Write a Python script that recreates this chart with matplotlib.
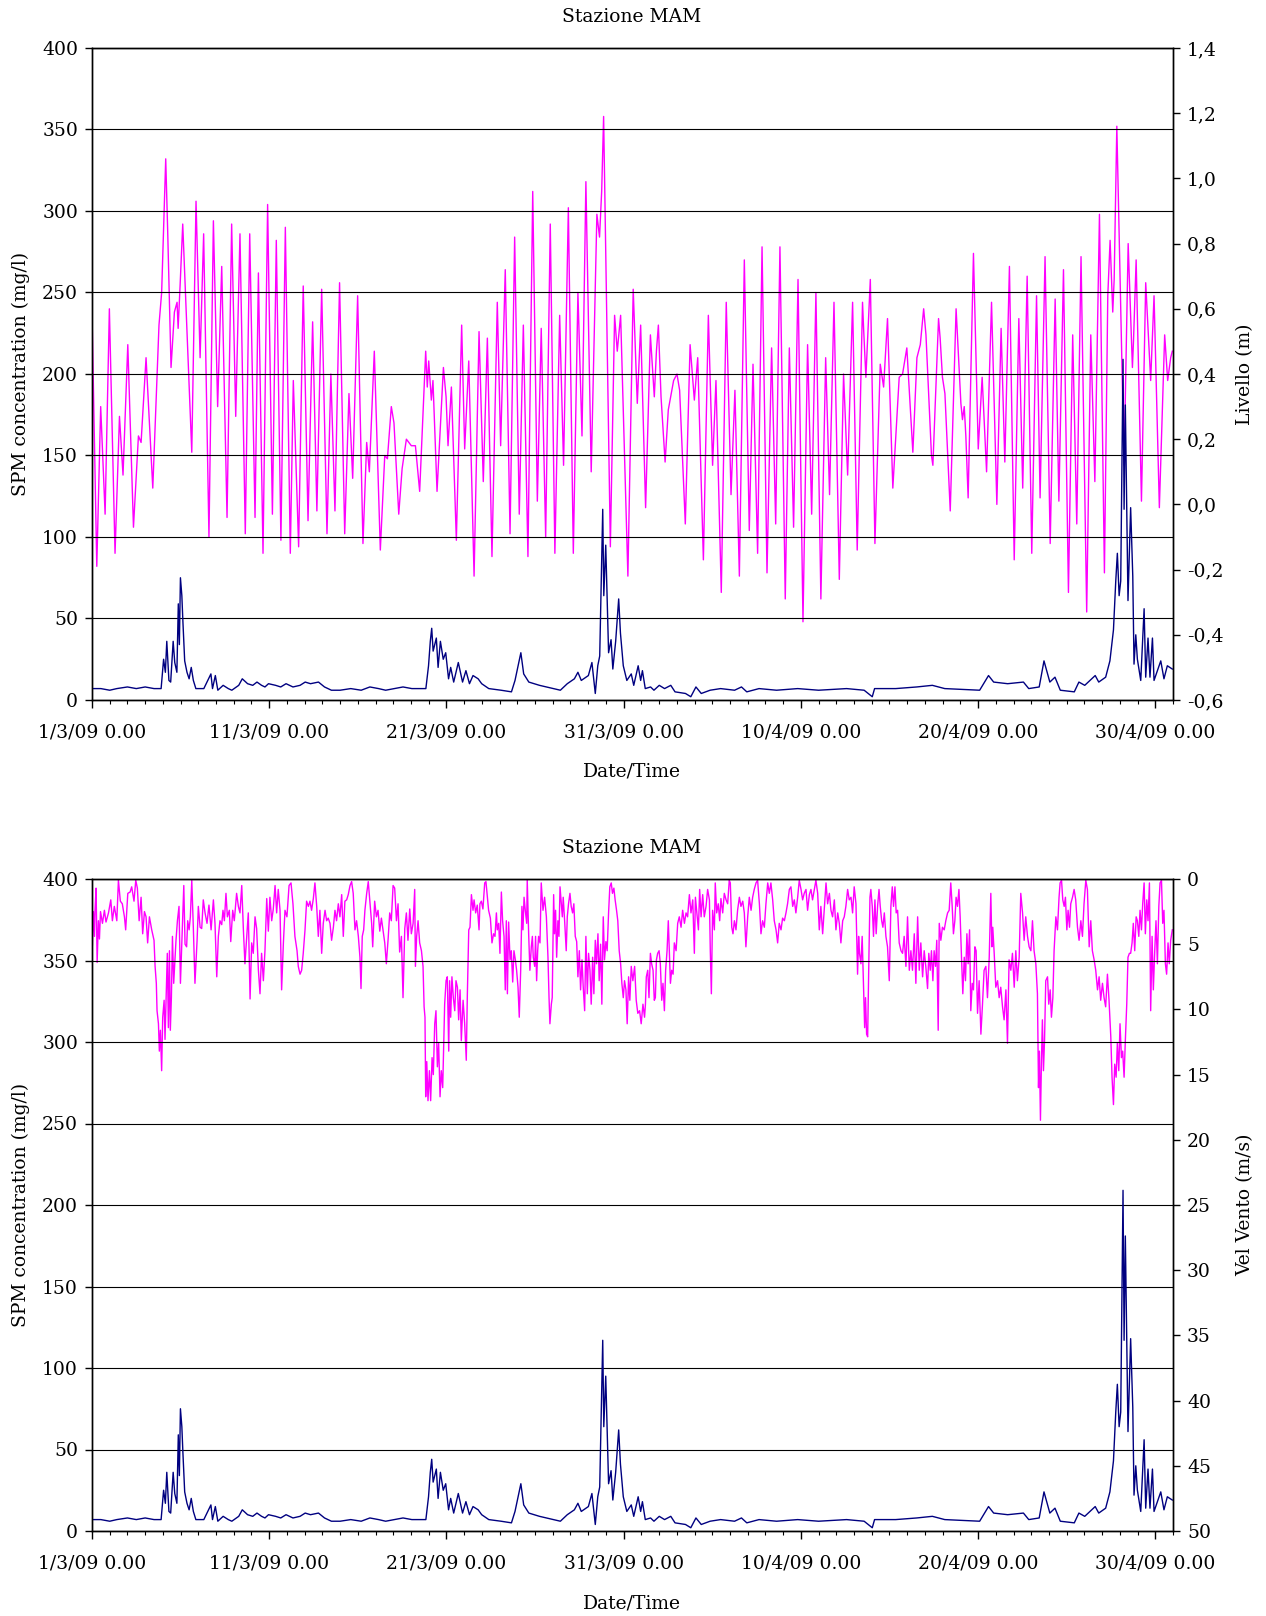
import matplotlib
matplotlib.use('Agg')
import matplotlib.pyplot as plt
from matplotlib.ticker import MultipleLocator, FixedLocator, FuncFormatter

plt.rcParams['font.family'] = 'DejaVu Serif'
plt.rcParams['font.size'] = 13.5

# x values are days since 1/3/09 0.00
date_ticks = [0, 10, 20, 30, 40, 50, 60]
date_labels = ['1/3/09 0.00', '11/3/09 0.00', '21/3/09 0.00', '31/3/09 0.00',
               '10/4/09 0.00', '20/4/09 0.00', '30/4/09 0.00']

# SPM concentration (mg/l)
spm = [(0.0, 7), (0.5, 7), (1.0, 6), (1.4, 7), (2.0, 8), (2.5, 7), (3.0, 8), (3.5, 7), (3.9, 7),
       (4.04, 25), (4.14, 17), (4.22, 36), (4.34, 12), (4.44, 11), (4.58, 36), (4.67, 23), (4.79, 17),
       (4.87, 59), (4.93, 34), (4.99, 75), (5.07, 64), (5.13, 48), (5.23, 24), (5.36, 17), (5.48, 13),
       (5.60, 20), (5.72, 12), (5.86, 7), (6.31, 7), (6.71, 16), (6.80, 7), (6.96, 15), (7.10, 6),
       (7.40, 9), (7.69, 7), (7.89, 6), (8.28, 9), (8.48, 13), (8.78, 10), (9.07, 9), (9.31, 11),
       (9.57, 9), (9.76, 8), (9.96, 10), (10.36, 9), (10.65, 8), (10.95, 10), (11.34, 8), (11.74, 9),
       (12.03, 11), (12.33, 10), (12.78, 11), (13.12, 8), (13.51, 6), (14.00, 6), (14.60, 7),
       (15.19, 6), (15.68, 8), (16.17, 7), (16.57, 6), (17.06, 7), (17.55, 8), (18.05, 7), (18.84, 7),
       (18.99, 21), (19.09, 36), (19.17, 44), (19.25, 30), (19.43, 38), (19.53, 20), (19.66, 36),
       (19.82, 25), (19.96, 29), (20.12, 13), (20.24, 20), (20.41, 11), (20.67, 23), (20.91, 11),
       (21.10, 18), (21.30, 10), (21.50, 15), (21.79, 13), (21.99, 10), (22.39, 7), (23.08, 6),
       (23.67, 5), (23.87, 12), (24.20, 29), (24.36, 16), (24.65, 11), (25.25, 9), (26.04, 7),
       (26.43, 6), (26.82, 10), (27.22, 13), (27.42, 17), (27.61, 12), (28.01, 15), (28.21, 23),
       (28.40, 4), (28.54, 21), (28.65, 27), (28.82, 117), (28.88, 64), (28.99, 95), (29.15, 29),
       (29.29, 37), (29.39, 19), (29.55, 36), (29.72, 62), (29.82, 41), (29.98, 21), (30.18, 12),
       (30.43, 16), (30.57, 9), (30.82, 21), (30.96, 12), (31.06, 18), (31.22, 7), (31.52, 8),
       (31.71, 6), (32.01, 9), (32.31, 7), (32.66, 9), (32.90, 5), (33.49, 4), (33.79, 2), (34.08, 8),
       (34.38, 4), (34.88, 6), (35.47, 7), (36.26, 6), (36.65, 8), (36.95, 5), (37.64, 7), (38.63, 6),
       (39.82, 7), (41.00, 6), (42.58, 7), (43.57, 6), (44.03, 2), (44.16, 7), (45.35, 7), (46.54, 8),
       (47.42, 9), (48.12, 7), (50.09, 6), (50.59, 15), (50.88, 11), (51.67, 10), (52.56, 11),
       (52.86, 7), (53.45, 8), (53.72, 24), (54.05, 11), (54.34, 14), (54.64, 6), (55.43, 5),
       (55.69, 11), (56.02, 9), (56.61, 15), (56.81, 11), (57.20, 14), (57.44, 24), (57.64, 43),
       (57.77, 73), (57.86, 90), (57.96, 64), (58.05, 73), (58.18, 209), (58.24, 117), (58.31, 181),
       (58.46, 61), (58.61, 118), (58.73, 76), (58.80, 22), (58.90, 40), (58.99, 25), (59.18, 12),
       (59.37, 56), (59.46, 14), (59.59, 38), (59.70, 14), (59.84, 38), (59.93, 12), (60.31, 24),
       (60.49, 13), (60.68, 21), (60.96, 19)]

# Livello (m), tide highs and lows
livello = [(0.0, 0.59), (0.27, -0.19), (0.49, 0.30), (0.74, -0.03), (0.98, 0.60), (1.30, -0.15),
           (1.55, 0.27), (1.75, 0.09), (2.02, 0.49), (2.34, -0.07), (2.62, 0.21), (2.77, 0.19),
           (3.05, 0.45), (3.43, 0.05), (3.78, 0.55), (3.93, 0.65), (4.16, 1.06), (4.27, 0.84),
           (4.46, 0.42), (4.65, 0.59), (4.80, 0.62), (4.86, 0.54), (4.97, 0.67), (5.12, 0.86),
           (5.63, 0.16), (5.87, 0.93), (6.10, 0.45), (6.30, 0.83), (6.60, -0.10), (6.85, 0.87),
           (7.09, 0.30), (7.32, 0.73), (7.62, -0.04), (7.88, 0.86), (8.11, 0.27), (8.35, 0.83),
           (8.65, -0.09), (8.90, 0.83), (9.20, -0.04), (9.39, 0.71), (9.65, -0.15), (9.91, 0.92),
           (10.18, -0.03), (10.40, 0.81), (10.66, -0.11), (10.91, 0.85), (11.19, -0.15), (11.36, 0.38),
           (11.66, -0.13), (11.92, 0.67), (12.19, -0.05), (12.45, 0.56), (12.69, -0.02), (12.96, 0.66),
           (13.26, -0.09), (13.48, 0.40), (13.71, -0.02), (13.97, 0.68), (14.26, -0.09), (14.50, 0.34),
           (14.71, 0.08), (14.99, 0.64), (15.29, -0.12), (15.50, 0.19), (15.65, 0.10), (15.93, 0.47),
           (16.27, -0.14), (16.52, 0.15), (16.67, 0.14), (16.89, 0.30), (17.04, 0.25), (17.31, -0.03),
           (17.50, 0.11), (17.74, 0.20), (18.02, 0.18), (18.25, 0.18), (18.49, 0.04), (18.83, 0.47),
           (18.92, 0.36), (19.00, 0.44), (19.15, 0.32), (19.24, 0.38), (19.47, 0.04), (19.83, 0.42),
           (19.98, 0.33), (20.09, 0.18), (20.28, 0.36), (20.56, -0.11), (20.86, 0.55), (21.03, 0.17),
           (21.26, 0.44), (21.56, -0.22), (21.84, 0.53), (22.08, 0.07), (22.31, 0.51), (22.57, -0.16),
           (22.87, 0.62), (23.06, 0.18), (23.32, 0.72), (23.59, -0.09), (23.85, 0.82), (24.11, -0.03),
           (24.34, 0.55), (24.60, -0.16), (24.87, 0.96), (25.13, 0.01), (25.35, 0.54), (25.60, -0.10),
           (25.86, 0.86), (26.12, -0.15), (26.39, 0.58), (26.61, 0.12), (26.88, 0.91), (27.16, -0.15),
           (27.42, 0.65), (27.65, 0.21), (27.87, 0.99), (28.17, 0.10), (28.49, 0.89), (28.64, 0.82),
           (28.76, 0.96), (28.87, 1.19), (29.25, -0.13), (29.49, 0.58), (29.64, 0.47), (29.83, 0.58),
           (30.24, -0.22), (30.54, 0.66), (30.77, 0.31), (30.96, 0.55), (31.24, -0.01), (31.51, 0.52),
           (31.73, 0.33), (31.85, 0.47), (31.96, 0.55), (32.11, 0.33), (32.34, 0.13), (32.52, 0.29),
           (32.82, 0.38), (33.01, 0.40), (33.16, 0.35), (33.48, -0.06), (33.75, 0.49), (33.99, 0.32),
           (34.18, 0.45), (34.50, -0.17), (34.78, 0.58), (35.02, 0.12), (35.21, 0.38), (35.51, -0.27),
           (35.79, 0.62), (36.06, 0.03), (36.28, 0.35), (36.53, -0.22), (36.81, 0.75), (37.09, -0.08),
           (37.30, 0.43), (37.56, -0.15), (37.81, 0.79), (38.09, -0.21), (38.35, 0.48), (38.58, -0.06),
           (38.82, 0.79), (39.12, -0.29), (39.35, 0.48), (39.59, -0.07), (39.84, 0.69), (40.12, -0.36),
           (40.38, 0.49), (40.61, -0.03), (40.85, 0.65), (41.13, -0.29), (41.40, 0.45), (41.62, 0.03),
           (41.87, 0.62), (42.17, -0.23), (42.41, 0.40), (42.64, 0.09), (42.92, 0.62), (43.18, -0.14),
           (43.48, 0.62), (43.54, 0.54), (43.67, 0.39), (43.92, 0.69), (44.18, -0.12), (44.48, 0.43),
           (44.67, 0.36), (44.89, 0.57), (45.19, 0.05), (45.55, 0.39), (45.74, 0.40), (45.98, 0.48),
           (46.32, 0.16), (46.55, 0.45), (46.74, 0.49), (46.93, 0.60), (47.06, 0.52), (47.37, 0.15),
           (47.45, 0.12), (47.77, 0.57), (47.86, 0.51), (47.99, 0.39), (48.13, 0.34), (48.43, -0.02),
           (48.76, 0.60), (49.03, 0.31), (49.12, 0.26), (49.22, 0.30), (49.31, 0.21), (49.44, 0.02),
           (49.74, 0.77), (50.01, 0.17), (50.23, 0.39), (50.48, 0.10), (50.76, 0.62), (51.06, 0.00),
           (51.30, 0.54), (51.51, 0.13), (51.77, 0.73), (52.04, -0.17), (52.30, 0.57), (52.52, 0.05),
           (52.77, 0.70), (53.03, -0.15), (53.30, 0.64), (53.50, 0.02), (53.78, 0.76), (54.07, -0.12),
           (54.35, 0.63), (54.56, 0.01), (54.82, 0.72), (55.10, -0.27), (55.34, 0.52), (55.57, -0.06),
           (55.81, 0.76), (56.13, -0.33), (56.36, 0.52), (56.59, 0.07), (56.85, 0.89), (57.13, -0.21),
           (57.32, 0.64), (57.45, 0.81), (57.60, 0.59), (57.68, 0.69), (57.83, 1.16), (58.24, 0.12),
           (58.47, 0.80), (58.71, 0.42), (58.77, 0.50), (58.92, 0.75), (59.22, 0.01), (59.46, 0.68),
           (59.74, 0.38), (59.93, 0.64), (60.23, -0.01), (60.53, 0.52), (60.70, 0.38), (60.87, 0.45),
           (60.96, 0.47)]

# Vel Vento (m/s)
vento = [(0.00, 1.4), (0.02, 5.1), (0.08, 2.5), (0.14, 4.4), (0.17, 2.4), (0.23, 0.7), (0.29, 6.4),
         (0.36, 3.2), (0.42, 4.6), (0.48, 2.5), (0.59, 3.4), (0.70, 2.4), (0.79, 3.3), (0.93, 2.6),
         (1.06, 1.6), (1.15, 3.2), (1.26, 2.1), (1.40, 3.2), (1.49, 0.1), (1.60, 1.7), (1.71, 1.9),
         (1.83, 2.9), (1.90, 3.9), (2.02, 1.1), (2.15, 1.0), (2.24, 0.6), (2.37, 1.7), (2.47, 0.1),
         (2.56, 0.7), (2.66, 3.2), (2.77, 1.4), (2.86, 4.2), (2.96, 2.5), (3.05, 2.9), (3.14, 4.9),
         (3.24, 2.9), (3.37, 3.9), (3.50, 4.7), (3.56, 6.7), (3.63, 8.0), (3.67, 10.1), (3.75, 11.1),
         (3.80, 13.2), (3.86, 11.6), (3.93, 14.7), (3.99, 10.6), (4.07, 9.3), (4.12, 12.3),
         (4.18, 9.2), (4.25, 5.7), (4.31, 11.4), (4.37, 5.5), (4.42, 11.6), (4.48, 9.1), (4.54, 4.4),
         (4.61, 8.0), (4.69, 6.0), (4.74, 4.7), (4.82, 3.2), (4.91, 2.1), (4.99, 8.0), (5.08, 4.4),
         (5.18, 0.5), (5.25, 5.0), (5.34, 5.2), (5.40, 3.2), (5.48, 3.9), (5.55, 2.9), (5.63, 0.1),
         (5.72, 3.8), (5.81, 8.0), (5.93, 4.7), (6.00, 2.1), (6.10, 3.7), (6.19, 3.8), (6.28, 1.6),
         (6.38, 2.6), (6.49, 3.4), (6.60, 2.0), (6.72, 3.9), (6.85, 1.6), (6.94, 3.4), (7.04, 7.5),
         (7.13, 4.4), (7.22, 3.2), (7.32, 3.5), (7.39, 2.4), (7.47, 3.2), (7.56, 1.1), (7.64, 2.9),
         (7.75, 2.4), (7.83, 4.8), (7.94, 2.4), (8.03, 3.2), (8.16, 1.1), (8.26, 2.1), (8.35, 2.6),
         (8.45, 0.5), (8.54, 3.8), (8.63, 6.5), (8.73, 4.4), (8.82, 2.6), (8.92, 9.2), (9.01, 4.9),
         (9.10, 5.7), (9.20, 2.9), (9.29, 3.8), (9.39, 7.0), (9.48, 8.8), (9.57, 5.7), (9.67, 7.8),
         (9.76, 5.5), (9.86, 1.5), (9.95, 4.0), (10.04, 1.4), (10.14, 3.2), (10.23, 2.3),
         (10.33, 0.5), (10.42, 2.6), (10.51, 0.8), (10.61, 2.4), (10.70, 8.5), (10.80, 4.9),
         (10.89, 2.4), (11.00, 2.9), (11.12, 0.5), (11.23, 0.3), (11.34, 1.9), (11.45, 4.4),
         (11.57, 5.5), (11.64, 6.7), (11.74, 7.3), (11.83, 7.0), (11.92, 5.7), (12.02, 3.9),
         (12.11, 1.7), (12.21, 2.1), (12.30, 1.7), (12.39, 2.4), (12.49, 1.5), (12.58, 0.3),
         (12.68, 2.1), (12.77, 4.4), (12.86, 2.4), (12.96, 5.7), (13.05, 3.4), (13.15, 2.4),
         (13.24, 3.2), (13.33, 3.0), (13.43, 3.4), (13.52, 4.7), (13.62, 3.7), (13.71, 2.4),
         (13.80, 3.2), (13.90, 1.9), (13.99, 2.9), (14.09, 1.2), (14.18, 4.4), (14.27, 1.7),
         (14.37, 1.6), (14.46, 1.2), (14.56, 0.5), (14.65, 0.2), (14.74, 1.1), (14.84, 3.9),
         (14.93, 3.2), (15.03, 4.4), (15.12, 6.0), (15.18, 8.4), (15.25, 4.4), (15.33, 3.9),
         (15.40, 2.4), (15.50, 1.1), (15.59, 0.2), (15.69, 1.9), (15.78, 3.4), (15.84, 5.2),
         (15.95, 1.7), (16.05, 2.9), (16.14, 2.4), (16.24, 4.0), (16.33, 3.0), (16.42, 3.9),
         (16.52, 4.9), (16.61, 6.5), (16.71, 4.6), (16.80, 2.6), (16.89, 3.2), (16.99, 0.5),
         (17.08, 0.7), (17.18, 3.2), (17.27, 1.9), (17.36, 5.6), (17.46, 4.4), (17.55, 9.1),
         (17.65, 3.8), (17.74, 2.6), (17.83, 4.7), (17.93, 2.3), (18.02, 4.2), (18.12, 3.4),
         (18.21, 0.8), (18.25, 6.7), (18.32, 4.4), (18.40, 3.2), (18.49, 4.9), (18.59, 5.5),
         (18.68, 6.7), (18.74, 9.8), (18.79, 10.6), (18.83, 16.7), (18.89, 14.0), (18.96, 17.0),
         (19.04, 14.7), (19.11, 17.0), (19.19, 13.7), (19.26, 15.0), (19.34, 11.1), (19.41, 10.1),
         (19.49, 14.4), (19.56, 12.6), (19.64, 16.7), (19.71, 14.7), (19.79, 16.0), (19.86, 12.1),
         (19.90, 9.6), (19.98, 7.8), (20.05, 7.5), (20.13, 13.2), (20.18, 7.8), (20.24, 10.6),
         (20.31, 7.5), (20.39, 9.1), (20.47, 10.1), (20.54, 7.8), (20.62, 8.3), (20.69, 10.8),
         (20.77, 8.5), (20.84, 12.4), (20.94, 9.3), (21.03, 11.1), (21.12, 13.9), (21.18, 8.9),
         (21.26, 3.9), (21.33, 3.7), (21.41, 1.2), (21.50, 2.4), (21.56, 1.6), (21.65, 2.6),
         (21.74, 2.0), (21.84, 3.9), (21.89, 1.9), (21.97, 1.7), (22.06, 2.3), (22.16, 0.3),
         (22.23, 0.2), (22.31, 1.4), (22.38, 2.4), (22.48, 3.0), (22.57, 4.9), (22.66, 4.2),
         (22.74, 4.4), (22.82, 2.6), (22.87, 3.9), (22.95, 3.4), (23.02, 5.7), (23.10, 1.0),
         (23.17, 3.2), (23.25, 4.4), (23.32, 8.5), (23.38, 3.2), (23.44, 8.8), (23.51, 3.3),
         (23.59, 6.2), (23.66, 5.5), (23.74, 7.9), (23.81, 5.5), (23.89, 6.2), (23.96, 7.0),
         (24.04, 8.3), (24.11, 10.6), (24.19, 7.0), (24.26, 2.1), (24.32, 3.9), (24.38, 1.4),
         (24.45, 2.4), (24.53, 3.4), (24.56, 0.1), (24.64, 4.2), (24.71, 7.0), (24.79, 5.2),
         (24.85, 4.4), (24.90, 6.0), (24.98, 6.7), (25.03, 4.4), (25.09, 7.8), (25.15, 5.5),
         (25.20, 4.4), (25.28, 4.9), (25.35, 0.3), (25.45, 2.4), (25.54, 1.4), (25.64, 2.9),
         (25.73, 6.0), (25.79, 9.1), (25.84, 11.1), (25.92, 9.6), (25.97, 9.1), (26.05, 1.2),
         (26.10, 4.2), (26.16, 2.4), (26.22, 6.0), (26.29, 3.2), (26.35, 4.4), (26.41, 0.6),
         (26.48, 1.9), (26.54, 2.9), (26.59, 1.4), (26.67, 3.2), (26.76, 5.5), (26.82, 2.9),
         (26.89, 1.9), (26.97, 1.1), (27.04, 2.1), (27.12, 2.6), (27.19, 1.9), (27.27, 4.4),
         (27.35, 4.8), (27.42, 7.5), (27.50, 5.5), (27.57, 8.5), (27.65, 6.2), (27.72, 8.3),
         (27.80, 10.1), (27.87, 4.4), (27.95, 8.8), (28.02, 5.7), (28.10, 7.0), (28.17, 9.6),
         (28.25, 6.0), (28.32, 8.8), (28.40, 4.7), (28.47, 6.5), (28.55, 4.2), (28.62, 7.8),
         (28.70, 5.0), (28.77, 9.6), (28.85, 2.9), (28.92, 6.2), (29.00, 4.8), (29.07, 5.5),
         (29.15, 2.6), (29.22, 0.6), (29.30, 0.3), (29.37, 1.1), (29.45, 0.7), (29.52, 1.6),
         (29.60, 2.4), (29.67, 3.2), (29.75, 5.5), (29.83, 6.5), (29.90, 8.0), (29.98, 9.1),
         (30.05, 7.8), (30.13, 8.5), (30.20, 11.1), (30.28, 7.5), (30.35, 9.3), (30.43, 6.7),
         (30.52, 7.8), (30.62, 6.7), (30.71, 9.3), (30.80, 10.3), (30.90, 10.1), (30.99, 11.1),
         (31.09, 9.6), (31.18, 10.6), (31.23, 9.6), (31.28, 7.5), (31.36, 7.0), (31.43, 9.1),
         (31.51, 5.7), (31.58, 6.5), (31.66, 7.0), (31.73, 9.3), (31.79, 9.1), (31.85, 6.2),
         (31.92, 5.7), (32.00, 5.5), (32.07, 6.5), (32.15, 9.3), (32.22, 8.0), (32.30, 10.1),
         (32.37, 7.0), (32.45, 5.5), (32.52, 3.2), (32.58, 5.5), (32.64, 8.0), (32.71, 7.0),
         (32.79, 7.3), (32.86, 4.9), (32.96, 5.5), (33.05, 3.4), (33.14, 2.9), (33.24, 3.7),
         (33.33, 2.4), (33.43, 3.4), (33.52, 2.6), (33.61, 2.9), (33.71, 1.2), (33.80, 2.6),
         (33.90, 1.6), (33.99, 5.7), (34.05, 1.4), (34.12, 2.4), (34.22, 3.9), (34.29, 0.8),
         (34.37, 2.9), (34.46, 1.2), (34.55, 2.9), (34.65, 2.1), (34.74, 0.8), (34.84, 1.6),
         (34.89, 5.5), (34.95, 8.8), (35.02, 2.4), (35.12, 3.9), (35.17, 0.3), (35.25, 2.6),
         (35.34, 1.9), (35.42, 3.2), (35.49, 1.5), (35.59, 2.6), (35.68, 1.1), (35.78, 1.6),
         (35.87, 1.9), (35.96, 0.1), (36.02, 0.3), (36.10, 3.7), (36.17, 4.2), (36.25, 3.2),
         (36.34, 3.9), (36.43, 2.4), (36.53, 1.4), (36.62, 2.1), (36.72, 1.7), (36.81, 2.6),
         (36.90, 5.2), (37.00, 2.9), (37.09, 1.4), (37.19, 2.4), (37.28, 1.4), (37.37, 0.8),
         (37.47, 0.3), (37.56, 0.1), (37.66, 1.9), (37.75, 4.2), (37.84, 3.2), (37.94, 3.7),
         (38.03, 1.9), (38.13, 0.3), (38.22, 1.1), (38.31, 0.3), (38.41, 1.6), (38.50, 3.2),
         (38.60, 3.9), (38.69, 4.9), (38.78, 3.4), (38.88, 3.9), (38.97, 3.0), (39.07, 3.2),
         (39.16, 2.6), (39.25, 1.9), (39.35, 0.8), (39.44, 0.6), (39.54, 2.1), (39.63, 1.6),
         (39.72, 2.6), (39.82, 1.4), (39.91, 0.1), (40.01, 0.8), (40.10, 1.6), (40.19, 1.1),
         (40.29, 0.8), (40.38, 2.4), (40.48, 1.2), (40.57, 0.8), (40.66, 1.6), (40.76, 0.8),
         (40.85, 0.1), (40.95, 1.1), (41.04, 3.9), (41.13, 2.1), (41.23, 4.2), (41.32, 2.4),
         (41.42, 0.3), (41.51, 1.9), (41.61, 1.1), (41.70, 2.4), (41.79, 2.9), (41.89, 1.6),
         (41.98, 3.9), (42.08, 2.6), (42.17, 3.4), (42.26, 4.9), (42.36, 3.2), (42.45, 2.9),
         (42.54, 2.1), (42.64, 0.8), (42.73, 1.6), (42.83, 1.4), (42.92, 2.6), (43.01, 0.6),
         (43.11, 1.9), (43.20, 7.3), (43.26, 4.4), (43.31, 5.7), (43.39, 6.5), (43.46, 4.4),
         (43.54, 8.3), (43.60, 11.4), (43.65, 9.1), (43.71, 11.9), (43.77, 12.1), (43.84, 6.0),
         (43.90, 1.4), (43.95, 0.8), (44.03, 2.1), (44.10, 4.4), (44.18, 1.6), (44.25, 4.2),
         (44.33, 2.1), (44.41, 0.8), (44.48, 2.1), (44.56, 3.2), (44.63, 3.7), (44.71, 2.6),
         (44.80, 4.4), (44.89, 5.2), (44.99, 7.8), (45.08, 2.1), (45.16, 0.6), (45.23, 2.1),
         (45.31, 0.6), (45.38, 2.6), (45.46, 2.4), (45.55, 4.9), (45.65, 5.5), (45.74, 5.7),
         (45.83, 4.4), (45.93, 6.7), (46.02, 2.9), (46.12, 7.0), (46.21, 5.5), (46.30, 7.0),
         (46.40, 4.2), (46.49, 8.0), (46.59, 2.9), (46.68, 7.0), (46.77, 4.9), (46.87, 7.5),
         (46.96, 5.5), (47.05, 6.7), (47.15, 8.4), (47.22, 5.7), (47.30, 7.0), (47.37, 5.5),
         (47.45, 7.8), (47.52, 5.5), (47.60, 6.7), (47.67, 4.7), (47.75, 11.6), (47.81, 3.4),
         (47.90, 4.7), (47.99, 3.7), (48.09, 3.9), (48.18, 3.2), (48.28, 2.6), (48.37, 2.4),
         (48.46, 0.3), (48.54, 2.1), (48.61, 4.2), (48.69, 3.2), (48.76, 1.4), (48.84, 2.1),
         (48.92, 0.8), (48.99, 2.9), (49.07, 6.2), (49.14, 8.8), (49.22, 6.0), (49.29, 7.8),
         (49.37, 4.2), (49.44, 6.5), (49.52, 3.9), (49.59, 10.1), (49.67, 8.0), (49.74, 8.5),
         (49.82, 5.2), (49.89, 5.5), (49.97, 10.3), (50.06, 7.8), (50.16, 11.9), (50.25, 9.6),
         (50.34, 7.0), (50.44, 6.7), (50.53, 9.1), (50.63, 6.0), (50.72, 1.1), (50.78, 5.2),
         (50.83, 3.7), (50.91, 5.7), (51.00, 8.3), (51.10, 7.8), (51.19, 9.1), (51.28, 8.3),
         (51.38, 9.8), (51.47, 10.8), (51.57, 8.5), (51.66, 12.6), (51.75, 6.2), (51.85, 7.0),
         (51.94, 5.7), (52.04, 8.3), (52.13, 5.5), (52.22, 7.8), (52.32, 6.0), (52.41, 1.1),
         (52.51, 2.6), (52.60, 4.7), (52.69, 2.9), (52.79, 4.4), (52.88, 5.2), (52.98, 5.5),
         (53.07, 3.2), (53.16, 5.5), (53.26, 6.5), (53.35, 8.8), (53.41, 16.0), (53.46, 13.2),
         (53.52, 18.5), (53.58, 13.7), (53.63, 10.8), (53.69, 14.7), (53.75, 12.4), (53.82, 7.8),
         (53.92, 7.5), (53.99, 9.6), (54.07, 8.5), (54.14, 10.6), (54.22, 9.1), (54.29, 5.5),
         (54.39, 2.9), (54.48, 3.9), (54.57, 1.4), (54.63, 0.3), (54.71, 0.1), (54.78, 1.6),
         (54.86, 2.1), (54.93, 1.4), (55.01, 3.9), (55.08, 2.4), (55.16, 3.7), (55.23, 1.9),
         (55.33, 1.4), (55.42, 0.8), (55.51, 1.6), (55.61, 3.7), (55.70, 4.7), (55.80, 3.2),
         (55.89, 4.4), (55.98, 1.9), (56.08, 0.1), (56.17, 0.8), (56.27, 5.2), (56.36, 3.2),
         (56.45, 5.5), (56.55, 6.2), (56.64, 7.0), (56.74, 8.5), (56.83, 7.5), (56.92, 9.3),
         (57.02, 8.0), (57.11, 9.1), (57.20, 9.8), (57.30, 7.3), (57.39, 9.3), (57.49, 12.1),
         (57.56, 15.2), (57.64, 17.3), (57.71, 14.2), (57.79, 15.2), (57.86, 12.6), (57.94, 14.7),
         (58.01, 11.1), (58.09, 13.7), (58.16, 13.2), (58.24, 15.2), (58.31, 12.4), (58.39, 9.6),
         (58.46, 6.0), (58.54, 5.7), (58.61, 5.7), (58.69, 4.9), (58.76, 3.4), (58.84, 5.5),
         (58.92, 2.9), (58.99, 3.2), (59.07, 4.4), (59.14, 2.4), (59.22, 3.9), (59.29, 1.9),
         (59.37, 0.3), (59.44, 4.2), (59.52, 1.6), (59.59, 3.2), (59.67, 0.3), (59.74, 10.1),
         (59.82, 4.4), (59.89, 8.5), (59.97, 5.5), (60.04, 3.2), (60.12, 6.5), (60.20, 2.1),
         (60.27, 0.3), (60.35, 0.1), (60.42, 3.4), (60.49, 2.4), (60.57, 6.5), (60.64, 7.3),
         (60.72, 4.9), (60.79, 6.5), (60.87, 4.7), (60.96, 3.9)]

spm_t, spm_v = zip(*spm)
liv_t, liv_v = zip(*livello)
ven_t, ven_v = zip(*vento)

MAGENTA = '#FF00FF'
NAVY = '#000080'
W, H = 1266, 1616

fig = plt.figure(figsize=(W / 100, H / 100), dpi=100)
fig.patch.set_facecolor('white')


def style_panel(ax, ax2):
    ax.set_xlim(0, 61)
    ax.set_ylim(0, 400)
    ax.yaxis.set_major_locator(MultipleLocator(50))
    ax.xaxis.set_major_locator(FixedLocator(date_ticks))
    ax.set_xticklabels(date_labels)
    ax.xaxis.set_minor_locator(MultipleLocator(1))
    ax.yaxis.grid(True, color='black', linewidth=0.8)
    ax.tick_params(axis='x', which='major', direction='out', length=6, width=1, pad=11)
    ax.tick_params(axis='x', which='minor', direction='out', length=3, width=0.8)
    ax.tick_params(axis='y', direction='out', length=5, width=1, pad=5)
    ax2.tick_params(axis='y', direction='out', length=5, width=1, pad=5)
    for sp in list(ax.spines.values()) + list(ax2.spines.values()):
        sp.set_color('black')
        sp.set_linewidth(1.0)
    # put the SPM line above the secondary series
    ax.set_zorder(ax2.get_zorder() + 1)
    ax.patch.set_visible(False)


# ---- top panel: SPM vs Livello ----
ax1 = fig.add_axes([92 / W, 1 - 700 / H, 1081 / W, 652 / H])
ax1b = ax1.twinx()
ax1b.plot(liv_t, liv_v, color=MAGENTA, linewidth=1.0)
ax1.plot(spm_t, spm_v, color=NAVY, linewidth=1.0)
ax1b.set_ylim(-0.6, 1.4)
ax1b.yaxis.set_major_locator(MultipleLocator(0.2))
ax1b.yaxis.set_major_formatter(FuncFormatter(lambda v, p: f'{v:.1f}'.replace('.', ',')))
style_panel(ax1, ax1b)

# ---- bottom panel: SPM vs Vel Vento ----
ax3 = fig.add_axes([92 / W, 1 - 1531 / H, 1081 / W, 652 / H])
ax3b = ax3.twinx()
ax3b.plot(ven_t, ven_v, color=MAGENTA, linewidth=1.0)
ax3.plot(spm_t, spm_v, color=NAVY, linewidth=1.0)
ax3b.set_ylim(50, 0)
ax3b.yaxis.set_major_locator(MultipleLocator(5))
style_panel(ax3, ax3b)

# titles and axis labels
for top, bottom, right_label in [(47.7, 700, 'Livello (m)'), (878.5, 1531, 'Vel Vento (m/s)')]:
    fig.text(632 / W, 1 - (top - 31) / H, 'Stazione MAM', ha='center', va='center', fontsize=13.5)
    fig.text(632 / W, 1 - (bottom + 72) / H, 'Date/Time', ha='center', va='center', fontsize=13.5)
    mid = 1 - (top + bottom) / 2 / H
    fig.text(21 / W, mid, 'SPM concentration (mg/l)', rotation=90, ha='center', va='center',
             fontsize=13.5)
    fig.text(1245 / W, mid, right_label, rotation=90, ha='center', va='center', fontsize=13.5)

fig.savefig('out.png', dpi=100, facecolor='white')
